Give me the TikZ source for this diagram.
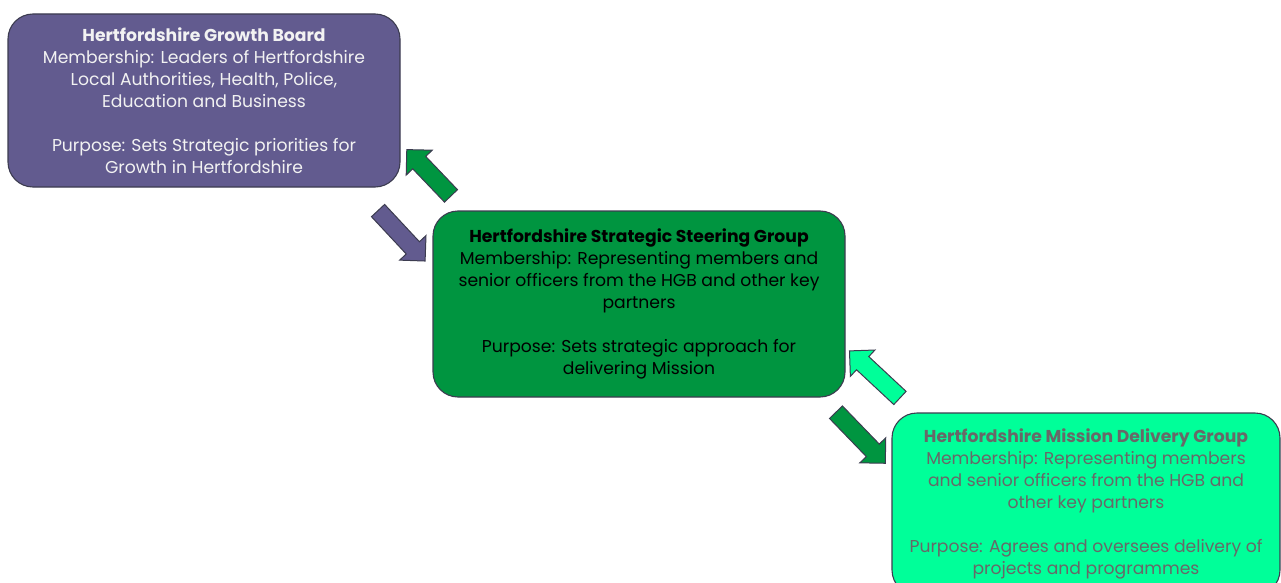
\documentclass[tikz,border=0pt]{standalone}
\usepackage{fontspec}
\setmainfont{Poppins}
\usetikzlibrary{shapes.arrows}
\definecolor{hgbpurple}{HTML}{625B8F}
\definecolor{ssggreen}{HTML}{009540}
\definecolor{mdgmint}{HTML}{00FF99}
\definecolor{edgegrey}{HTML}{3C3C50}
\definecolor{mdgtext}{HTML}{686868}
\definecolor{hgbtext}{HTML}{F2F2F2}
\tikzset{
  box/.style={draw=edgegrey, line width=1.1pt, rounded corners=25pt, align=center,
    font=\fontsize{17.2}{22}\selectfont, inner sep=0pt},
  blockarrow/.style={single arrow, draw=edgegrey, line width=1pt, inner sep=0pt,
    single arrow head extend=9pt, single arrow head indent=0pt}
}
\newcommand{\shaftrule}{\rule{0pt}{17pt}}
\begin{document}
\begin{tikzpicture}[x=1pt,y=1pt]
\useasboundingbox (0,0) rectangle (1281,-583);
\clip (0,0) rectangle (1281,-583);
\node[box, fill=hgbpurple, text=hgbtext, minimum width=392pt, minimum height=173pt] (hgb) at (204,-100.5)
 {\textbf{Hertfordshire Growth Board}\\
  Membership: Leaders of Hertfordshire\\
  Local Authorities, Health, Police,\\
  Education and Business\\[22pt]
  Purpose: Sets Strategic priorities for\\
  Growth in Hertfordshire};
\node[box, fill=ssggreen, text=black, minimum width=412pt, minimum height=186pt] (ssg) at (639,-304)
 {\textbf{Hertfordshire Strategic Steering Group}\\
  Membership: Representing members and\\
  senior officers from the HGB and other key\\
  partners\\[22pt]
  Purpose: Sets strategic approach for\\
  delivering Mission};
\node[box, fill=mdgmint, text=mdgtext, minimum width=388pt, minimum height=182pt] (mdg) at (1086,-504)
 {\textbf{Hertfordshire Mission Delivery Group}\\
  Membership: Representing members\\
  and senior officers from the HGB and\\
  other key partners\\[22pt]
  Purpose: Agrees and oversees delivery of\\
  projects and programmes};
\node[blockarrow, fill=hgbpurple, minimum height=69pt, rotate=-47] (a1) at (398.5,-232.5) {\shaftrule};
\node[blockarrow, fill=ssggreen, minimum height=64pt, rotate=133.7] (a2) at (432,-176) {\shaftrule};
\node[blockarrow, fill=mdgmint, minimum height=69pt, rotate=137] (a3) at (878,-377.5) {\shaftrule};
\node[blockarrow, fill=ssggreen, minimum height=71pt, rotate=-46] (a4) at (857.5,-434.5) {\shaftrule};
\end{tikzpicture}
\end{document}
